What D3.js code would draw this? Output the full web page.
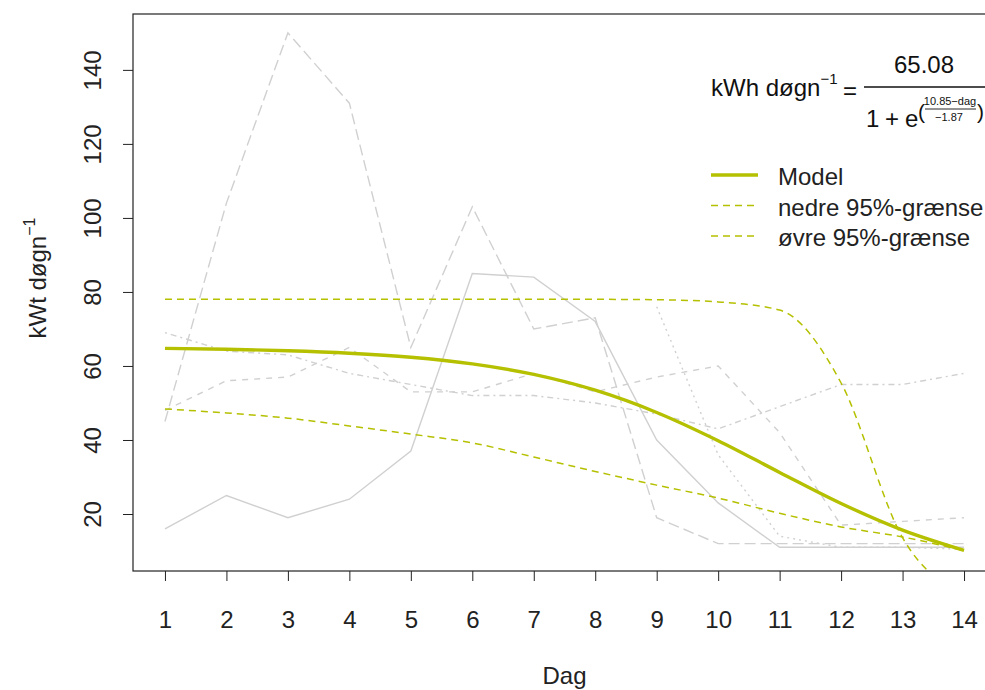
<!DOCTYPE html>
<html>
<head>
<meta charset="utf-8">
<script src="https://cdn.jsdelivr.net/npm/d3@7"></script>
<style>
  body { margin: 0; background: #fff; }
  svg { display: block; font-family: "Liberation Sans", Arial, Helvetica, sans-serif; }
</style>
</head>
<body>
<svg id="chart" width="985" height="690"></svg>
<script>
// Days on the x axis and tick values
const days = [1, 2, 3, 4, 5, 6, 7, 8, 9, 10, 11, 12, 13, 14];
const yTicks = [20, 40, 60, 80, 100, 120, 140];

// Observed daily production (kWt per døgn) for the individual batches
const batchSolid    = [16, 25, 19, 24, 37, 85, 84, 72, 40, 23, 11, 11, 11, 11];
const batchDashed   = [48, 56, 57, 65, 53, 53, 58, 53, 57, 60, 42, 17, 18, 19];
const batchDotted   = [null, null, null, null, null, null, null, null, 76, 36, 14, 11, 11, 10.5];
const batchDotDash  = [69, 64, 63, 58, 55, 52, 52, 50, 47, 43, 49, 55, 55, 58];
const batchLongDash = [45, 104, 150, 131, 65, 103, 70, 73, 19, 12, 12, 12, 12, 12];

// Logistic model and its 95% limits, per day
const model = [64.75, 64.51, 64.12, 63.45, 62.35, 60.55, 57.72, 53.44, 47.44, 39.81, 31.24, 22.84, 15.66, 10.19];
const lower95 = [48.4, 47.3, 45.9, 43.8, 41.6, 39.2, 35.4, 31.5, 27.8, 24.3, 20.2, 16.5, 13.8, 10.1];
const upper95 = [78.0, 78.0, 78.0, 78.0, 78.0, 78.0, 78.0, 78.0, 77.9, 77.3, 75.1, 55.4, 13.6, -2.0];

const legendLabels = ["Model", "nedre 95%-grænse", "øvre 95%-grænse"];

// ---- layout ----
const svg = d3.select("#chart");
const plotLeft = 133, plotTop = 14, plotRight = 996, plotBottom = 571;
const green = "#b5c000";
const grey = "#d0d0d0";
const fontSize = 24;

const x = d3.scaleLinear().domain([0.48, 14.52]).range([plotLeft, plotRight]);
const y = d3.scaleLinear().domain([4.6, 155.1]).range([plotBottom, plotTop]);

svg.append("defs").append("clipPath").attr("id", "plot-clip")
  .append("rect").attr("x", plotLeft).attr("y", plotTop)
  .attr("width", plotRight - plotLeft).attr("height", plotBottom - plotTop);

const plot = svg.append("g").attr("clip-path", "url(#plot-clip)");

const lineOf = (vals, curve) => d3.line()
  .defined(d => d != null)
  .x((d, i) => x(days[i]))
  .y(d => y(d))
  .curve(curve || d3.curveLinear)(vals);

// grey batch lines
const batches = [
  { vals: batchSolid, dash: null },
  { vals: batchDashed, dash: "6,6" },
  { vals: batchDotted, dash: "2,4" },
  { vals: batchDotDash, dash: "2,4,6,4" },
  { vals: batchLongDash, dash: "11,5" }
];
batches.forEach(b => {
  plot.append("path")
    .attr("d", lineOf(b.vals))
    .attr("fill", "none")
    .attr("stroke", grey)
    .attr("stroke-width", 1.4)
    .attr("stroke-dasharray", b.dash);
});

// 95% limits
[lower95, upper95].forEach(vals => {
  plot.append("path")
    .attr("d", lineOf(vals, d3.curveMonotoneX))
    .attr("fill", "none")
    .attr("stroke", green)
    .attr("stroke-width", 1.5)
    .attr("stroke-dasharray", "7,5");
});

// model curve
plot.append("path")
  .attr("d", lineOf(model, d3.curveMonotoneX))
  .attr("fill", "none")
  .attr("stroke", green)
  .attr("stroke-width", 3.4);

// ---- axes ----
const xAxis = svg.append("g")
  .attr("transform", `translate(0,${plotBottom})`)
  .call(d3.axisBottom(x).tickValues(days).tickSize(10).tickFormat(d3.format("d")));
xAxis.select(".domain").remove();
xAxis.selectAll(".tick line").attr("stroke", "#222").attr("stroke-width", 1);
xAxis.selectAll(".tick text")
  .attr("y", 57).attr("dy", 0)
  .attr("fill", "#222")
  .style("font-size", fontSize + "px")
  .style("font-family", "'Liberation Sans', Arial, sans-serif");

const yAxis = svg.append("g")
  .attr("transform", `translate(${plotLeft},0)`)
  .call(d3.axisLeft(y).tickValues(yTicks).tickSize(10));
yAxis.select(".domain").remove();
yAxis.selectAll(".tick line").attr("stroke", "#222").attr("stroke-width", 1);
yAxis.selectAll(".tick text")
  .attr("transform", "rotate(-90)")
  .attr("x", 0).attr("y", -32).attr("dy", 0)
  .attr("text-anchor", "middle")
  .attr("fill", "#222")
  .style("font-size", fontSize + "px")
  .style("font-family", "'Liberation Sans', Arial, sans-serif");

// plot frame
svg.append("rect")
  .attr("x", plotLeft).attr("y", plotTop)
  .attr("width", plotRight - plotLeft).attr("height", plotBottom - plotTop)
  .attr("fill", "none").attr("stroke", "#222").attr("stroke-width", 1.2);

// axis titles
svg.append("text")
  .attr("x", (x(1) + x(14)) / 2).attr("y", 684)
  .attr("text-anchor", "middle")
  .attr("fill", "#222")
  .style("font-size", fontSize + "px")
  .text("Dag");

const yTitle = svg.append("text")
  .attr("transform", "translate(46,278) rotate(-90)")
  .attr("text-anchor", "middle")
  .attr("fill", "#222")
  .style("font-size", fontSize + "px");
yTitle.append("tspan").text("kWt døgn");
yTitle.append("tspan").attr("dy", -11).style("font-size", "16px").text("−1");

// ---- model formula ----
const f = svg.append("g").attr("fill", "#111");
const lhs = f.append("text").attr("x", 711).attr("y", 96).style("font-size", fontSize + "px");
lhs.append("tspan").text("kWh døgn");
lhs.append("tspan").attr("dy", -12).style("font-size", "15px").text("−1");
f.append("text").attr("x", 843).attr("y", 99).style("font-size", fontSize + "px").text("=");
f.append("line").attr("x1", 864).attr("x2", 990).attr("y1", 87).attr("y2", 87)
  .attr("stroke", "#111").attr("stroke-width", 1.3);
f.append("text").attr("x", 924).attr("y", 73).attr("text-anchor", "middle")
  .style("font-size", fontSize + "px").text("65.08");
f.append("text").attr("x", 866).attr("y", 127).style("font-size", fontSize + "px").text("1");
f.append("text").attr("x", 885).attr("y", 127).style("font-size", fontSize + "px").text("+");
f.append("text").attr("x", 905).attr("y", 127).style("font-size", fontSize + "px").text("e");
f.append("text").attr("x", 918).attr("y", 119).style("font-size", "21px").text("(");
f.append("text").attr("x", 950).attr("y", 105).attr("text-anchor", "middle")
  .style("font-size", "11px").text("10.85−dag");
f.append("line").attr("x1", 925).attr("x2", 976).attr("y1", 109).attr("y2", 109)
  .attr("stroke", "#111").attr("stroke-width", 0.9);
f.append("text").attr("x", 949).attr("y", 121).attr("text-anchor", "middle")
  .style("font-size", "11px").text("−1.87");
f.append("text").attr("x", 977).attr("y", 119).style("font-size", "21px").text(")");

// ---- legend ----
const legend = svg.append("g");
const legendY = [175, 205.5, 236];
legendLabels.forEach((lab, i) => {
  legend.append("line")
    .attr("x1", 711).attr("x2", 758)
    .attr("y1", legendY[i]).attr("y2", legendY[i])
    .attr("stroke", green)
    .attr("stroke-width", i === 0 ? 3.4 : 1.5)
    .attr("stroke-dasharray", i === 0 ? null : "7,5");
  legend.append("text")
    .attr("x", 778).attr("y", legendY[i] + 10)
    .attr("fill", "#222")
    .style("font-size", fontSize + "px")
    .text(lab);
});
</script>
</body>
</html>
